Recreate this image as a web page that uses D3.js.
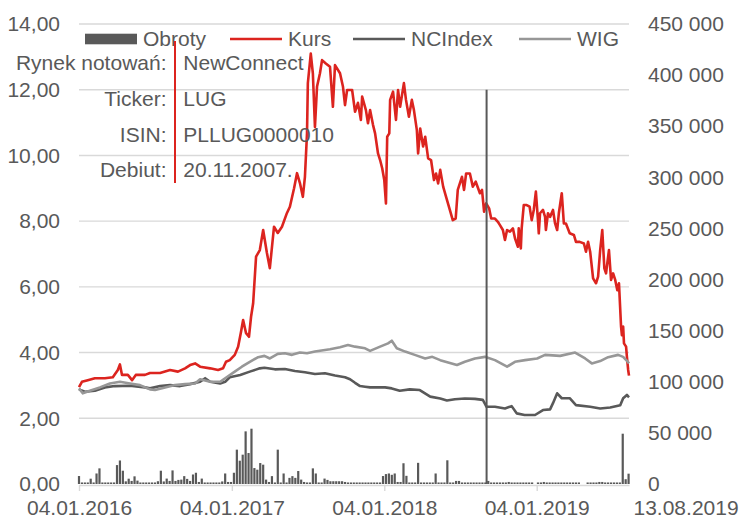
<!DOCTYPE html>
<html>
<head>
<meta charset="utf-8">
<script src="https://cdn.jsdelivr.net/npm/d3@7"></script>
<style>
  body { margin: 0; background: #fff; }
  svg text { font-family: "Liberation Sans", Arial, sans-serif; fill: #595959; }
</style>
</head>
<body>
<div id="chart"></div>
<script>
// Kurs LUG (PLN), left axis
const kurs = [
  ["2016-01-04", 2.95], ["2016-01-11", 3.11], ["2016-01-25", 3.16], ["2016-02-11", 3.22],
  ["2016-03-06", 3.22], ["2016-03-25", 3.25], ["2016-04-06", 3.47], ["2016-04-11", 3.64],
  ["2016-04-16", 3.32], ["2016-04-30", 3.32], ["2016-05-10", 3.16], ["2016-05-19", 3.32],
  ["2016-06-10", 3.32], ["2016-06-22", 3.38], ["2016-07-16", 3.38], ["2016-08-09", 3.47],
  ["2016-08-28", 3.42], ["2016-09-14", 3.52], ["2016-09-26", 3.62], ["2016-10-08", 3.67],
  ["2016-10-20", 3.57], ["2016-11-13", 3.52], ["2016-12-02", 3.47], ["2016-12-14", 3.52],
  ["2016-12-21", 3.72], ["2016-12-30", 3.77], ["2017-01-11", 3.93], ["2017-01-19", 4.18],
  ["2017-01-26", 4.63], ["2017-01-31", 4.99], ["2017-02-07", 4.59], ["2017-02-14", 4.48],
  ["2017-02-19", 5.09], ["2017-02-24", 5.5], ["2017-03-03", 6.92], ["2017-03-12", 7.12],
  ["2017-03-20", 7.73], ["2017-03-29", 7.03], ["2017-04-05", 6.57], ["2017-04-15", 7.83],
  ["2017-04-24", 7.64], ["2017-05-04", 7.83], ["2017-05-16", 8.25], ["2017-05-23", 8.44],
  ["2017-06-02", 9.0], ["2017-06-09", 9.46], ["2017-06-16", 9.16], ["2017-06-23", 8.74],
  ["2017-06-28", 9.35], ["2017-07-03", 10.68], ["2017-07-05", 12.2], ["2017-07-12", 13.1],
  ["2017-07-17", 12.5], ["2017-07-22", 10.87], ["2017-07-27", 12.1], ["2017-08-03", 12.5],
  ["2017-08-08", 12.9], ["2017-08-17", 12.8], ["2017-08-27", 12.7], ["2017-09-03", 11.48],
  ["2017-09-08", 12.75], ["2017-09-20", 12.5], ["2017-09-27", 12.1], ["2017-10-02", 11.53],
  ["2017-10-07", 11.99], ["2017-10-19", 11.99], ["2017-10-26", 11.33], ["2017-11-02", 11.6],
  ["2017-11-09", 11.08], ["2017-11-12", 11.79], ["2017-11-21", 11.38], ["2017-11-26", 10.98],
  ["2017-12-01", 11.38], ["2017-12-08", 10.93], ["2017-12-13", 10.67], ["2017-12-20", 10.06],
  ["2017-12-25", 9.86], ["2017-12-30", 9.61], ["2018-01-04", 9.25], ["2018-01-08", 8.54],
  ["2018-01-11", 10.57], ["2018-01-16", 10.67], ["2018-01-18", 11.69], ["2018-01-25", 11.94],
  ["2018-02-01", 11.08], ["2018-02-06", 11.99], ["2018-02-11", 11.48], ["2018-02-20", 12.2],
  ["2018-02-25", 11.69], ["2018-03-04", 11.18], ["2018-03-11", 11.69], ["2018-03-16", 11.38],
  ["2018-03-23", 10.77], ["2018-03-26", 10.06], ["2018-03-31", 10.82], ["2018-04-07", 10.27],
  ["2018-04-12", 10.57], ["2018-04-19", 9.91], ["2018-04-26", 9.86], ["2018-05-03", 9.25],
  ["2018-05-08", 9.45], ["2018-05-13", 9.15], ["2018-05-18", 9.56], ["2018-05-25", 9.05],
  ["2018-06-01", 8.74], ["2018-06-10", 8.34], ["2018-06-17", 8.03], ["2018-06-24", 8.08],
  ["2018-06-29", 8.95], ["2018-07-09", 9.35], ["2018-07-14", 8.95], ["2018-07-19", 9.45],
  ["2018-07-28", 9.45], ["2018-08-04", 9.05], ["2018-08-11", 9.2], ["2018-08-21", 8.85],
  ["2018-08-26", 8.95], ["2018-08-31", 8.29], ["2018-09-05", 8.54], ["2018-09-12", 8.39],
  ["2018-09-17", 8.08], ["2018-09-26", 8.08], ["2018-10-03", 7.98], ["2018-10-08", 7.88],
  ["2018-10-15", 7.73], ["2018-10-20", 7.43], ["2018-10-25", 7.73], ["2018-11-01", 7.68],
  ["2018-11-08", 7.78], ["2018-11-13", 7.48], ["2018-11-20", 7.22], ["2018-11-22", 7.78],
  ["2018-11-27", 7.17], ["2018-11-29", 7.78], ["2018-12-04", 8.49], ["2018-12-11", 8.49],
  ["2018-12-18", 8.44], ["2018-12-23", 8.03], ["2018-12-28", 8.34], ["2019-01-02", 8.9],
  ["2019-01-07", 8.03], ["2019-01-09", 7.63], ["2019-01-12", 8.24], ["2019-01-19", 8.34],
  ["2019-01-24", 8.13], ["2019-01-26", 7.73], ["2019-01-31", 8.24], ["2019-02-05", 8.13],
  ["2019-02-12", 8.34], ["2019-02-17", 7.93], ["2019-02-22", 7.73], ["2019-02-26", 8.24],
  ["2019-03-05", 8.85], ["2019-03-10", 7.93], ["2019-03-15", 7.93], ["2019-03-24", 7.63],
  ["2019-04-03", 7.58], ["2019-04-08", 7.37], ["2019-04-17", 7.37], ["2019-04-27", 7.32],
  ["2019-05-02", 7.07], ["2019-05-07", 7.37], ["2019-05-12", 7.07], ["2019-05-19", 6.26],
  ["2019-05-26", 6.11], ["2019-05-31", 6.31], ["2019-06-05", 7.12], ["2019-06-10", 7.73],
  ["2019-06-15", 6.56], ["2019-06-19", 6.41], ["2019-06-26", 7.12], ["2019-07-01", 6.21],
  ["2019-07-06", 6.41], ["2019-07-11", 6.21], ["2019-07-16", 5.9], ["2019-07-20", 6.11],
  ["2019-07-25", 4.79], ["2019-07-27", 4.53], ["2019-07-30", 4.79], ["2019-08-01", 4.28],
  ["2019-08-06", 4.18], ["2019-08-08", 3.87], ["2019-08-11", 3.47], ["2019-08-13", 3.3]
];

// NCIndex rescaled to the share price at start
const ncindex = [
  ["2016-01-04", 2.88], ["2016-01-18", 2.81], ["2016-02-11", 2.84], ["2016-03-06", 2.94],
  ["2016-03-30", 2.98], ["2016-05-05", 2.99], ["2016-06-10", 2.94], ["2016-06-22", 2.91],
  ["2016-07-16", 2.98], ["2016-08-09", 3.01], ["2016-09-02", 2.98], ["2016-09-26", 3.04],
  ["2016-10-20", 3.11], ["2016-11-01", 3.22], ["2016-11-13", 3.11], ["2016-12-07", 3.06],
  ["2016-12-19", 3.11], ["2016-12-30", 3.25], ["2017-01-24", 3.32], ["2017-02-16", 3.42],
  ["2017-03-12", 3.52], ["2017-03-23", 3.54], ["2017-04-17", 3.49], ["2017-05-11", 3.5],
  ["2017-06-04", 3.44], ["2017-06-28", 3.4], ["2017-07-22", 3.35], ["2017-08-15", 3.37],
  ["2017-09-08", 3.3], ["2017-10-02", 3.25], ["2017-10-14", 3.19], ["2017-10-26", 3.08],
  ["2017-11-07", 2.98], ["2017-11-19", 2.96], ["2017-12-01", 2.94], ["2018-01-06", 2.94],
  ["2018-01-22", 2.91], ["2018-02-10", 2.84], ["2018-03-06", 2.88], ["2018-03-30", 2.86],
  ["2018-04-24", 2.66], ["2018-05-18", 2.6], ["2018-06-03", 2.54], ["2018-06-22", 2.58],
  ["2018-07-16", 2.6], ["2018-08-09", 2.59], ["2018-08-28", 2.56], ["2018-09-06", 2.35],
  ["2018-09-26", 2.35], ["2018-10-20", 2.3], ["2018-11-05", 2.37], ["2018-11-17", 2.15],
  ["2018-12-06", 2.1], ["2018-12-31", 2.1], ["2019-01-19", 2.25], ["2019-02-05", 2.27],
  ["2019-02-12", 2.46], ["2019-02-22", 2.76], ["2019-03-05", 2.61], ["2019-03-24", 2.61],
  ["2019-04-08", 2.4], ["2019-05-12", 2.35], ["2019-06-05", 2.3], ["2019-06-29", 2.33],
  ["2019-07-23", 2.4], ["2019-07-30", 2.61], ["2019-08-08", 2.71], ["2019-08-13", 2.64]
];

// WIG rescaled to the share price at start
const wig = [
  ["2016-01-04", 2.91], ["2016-01-13", 2.76], ["2016-01-30", 2.84], ["2016-02-23", 2.94],
  ["2016-03-18", 3.06], ["2016-04-11", 3.11], ["2016-05-05", 3.06], ["2016-05-29", 3.01],
  ["2016-06-22", 2.88], ["2016-07-04", 2.86], ["2016-07-28", 2.94], ["2016-08-21", 3.01],
  ["2016-09-14", 3.04], ["2016-10-08", 3.06], ["2016-10-20", 3.19], ["2016-11-13", 3.11],
  ["2016-12-07", 3.11], ["2016-12-25", 3.27], ["2017-01-11", 3.42], ["2017-01-28", 3.57],
  ["2017-02-16", 3.72], ["2017-03-08", 3.86], ["2017-03-23", 3.9], ["2017-04-05", 3.82],
  ["2017-04-24", 3.96], ["2017-05-11", 3.98], ["2017-05-28", 3.93], ["2017-06-16", 4.0],
  ["2017-07-03", 3.98], ["2017-07-22", 4.03], ["2017-08-15", 4.08], ["2017-08-27", 4.1],
  ["2017-09-20", 4.16], ["2017-10-09", 4.23], ["2017-10-26", 4.18], ["2017-11-19", 4.13],
  ["2017-12-01", 4.05], ["2017-12-25", 4.18], ["2018-01-13", 4.28], ["2018-01-22", 4.36],
  ["2018-02-03", 4.13], ["2018-02-23", 4.03], ["2018-03-18", 3.93], ["2018-04-12", 3.82],
  ["2018-04-29", 3.87], ["2018-05-18", 3.77], ["2018-06-27", 3.62], ["2018-07-16", 3.72],
  ["2018-08-09", 3.82], ["2018-09-02", 3.87], ["2018-09-26", 3.77], ["2018-10-25", 3.57],
  ["2018-11-13", 3.72], ["2018-12-07", 3.77], ["2019-01-05", 3.82], ["2019-01-24", 3.93],
  ["2019-03-01", 3.9], ["2019-04-06", 4.0], ["2019-04-30", 3.82], ["2019-05-16", 3.67],
  ["2019-06-05", 3.74], ["2019-06-24", 3.86], ["2019-07-18", 3.93], ["2019-07-30", 3.87],
  ["2019-08-08", 3.75], ["2019-08-13", 3.67]
];

// Obroty (PLN), weekly, right axis; first week starts 04.01.2016
const obrotyStart = "2016-01-04";
const obroty = [
  7800, 1500, 1500, 1500, 5200, 1500, 10300, 15300, 1500, 1500,
  1500, 1500, 1500, 18500, 23000, 13000, 2600, 5200, 3000, 7500,
  3300, 1500, 1500, 1500, 1500, 1500, 1500, 2700, 13000, 2500,
  5300, 3000, 13300, 3000, 4000, 4300, 7700, 5000, 3000, 9300,
  11000, 2000, 5300, 1500, 1500, 1500, 1500, 1500, 1500, 2500,
  10300, 2000, 2000, 11000, 33600, 22800, 28700, 51500, 30300, 54100,
  15600, 14000, 20500, 18900, 4300, 2000, 7700, 1500, 33600, 1500,
  10300, 1500, 6000, 7700, 6000, 12700, 4300, 2000, 1500, 1500,
  15300, 10300, 1500, 1500, 5300, 4000, 2700, 2700, 2700, 2700,
  2700, 2000, 1500, 1500, 1500, 1500, 1500, 1500, 1500, 1500,
  1500, 1500, 1500, 1500, 7800, 9700, 10300, 9000, 10300, 2000,
  2000, 20300, 8000, 1500, 1500, 1500, 20700, 1500, 1500, 1500,
  1500, 1500, 10300, 1500, 1500, 1500, 23200, 1500, 1500, 3000,
  3000, 1500, 1500, 1500, 1500, 1500, 1500, 1500, 1500, 1500,
  3000, 1500, 1500, 1500, 1500, 1500, 1500, 2000, 1500, 1500,
  1500, 1500, 1500, 1500, 1500, 1500, 0, 1500, 1500, 2000,
  1500, 1500, 1500, 1500, 1500, 1500, 1500, 1500, 1500, 1500,
  1500, 1500, 0, 0, 1500, 1500, 1500, 1500, 2000, 2000,
  1500, 1500, 1500, 1500, 1500, 1500, 49200, 4700, 10100
];

const leftTicks = [0, 2, 4, 6, 8, 10, 12, 14];
const rightTicks = [0, 50000, 100000, 150000, 200000, 250000, 300000, 350000, 400000, 450000];
const dateTicks = ["2016-01-04", "2017-01-04", "2018-01-04", "2019-01-04"];
const endDate = "2019-08-13";
const markerDate = "2018-09-06";
const markerValue = 12;

const legendNames = ["Obroty", "Kurs", "NCIndex", "WIG"];
const infoLabels = ["Rynek notowań:", "Ticker:", "ISIN:", "Debiut:"];
const infoValues = ["NewConnect", "LUG", "PLLUG0000010", "20.11.2007."];

// colours
const red = "#dc241f";
const dark = "#595959";
const light = "#979797";
const grid = "#d9d9d9";

const W = 739, H = 515;
const dim = { top: 24, right: 110, bottom: 31, left: 79 };

const parse = d3.timeParse("%Y-%m-%d");
const pl = d3.formatLocale({ decimal: ",", thousands: " ", grouping: [3], currency: ["", " zł"] });

const svg = d3.select("#chart")
  .append("svg")
  .attr("width", W)
  .attr("height", H);

const x = d3.scaleTime()
  .domain([parse(dateTicks[0]), parse(endDate)])
  .range([dim.left, W - dim.right]);

const y = d3.scaleLinear()
  .domain([0, 14])
  .range([H - dim.bottom, dim.top]);

const y2 = d3.scaleLinear()
  .domain([0, 450000])
  .range([H - dim.bottom, dim.top]);

// grid lines
svg.append("g")
  .selectAll("line")
  .data(leftTicks.filter(d => d > 0))
  .join("line")
  .attr("x1", x.range()[0])
  .attr("x2", x.range()[1])
  .attr("y1", d => y(d))
  .attr("y2", d => y(d))
  .attr("stroke", grid)
  .attr("stroke-width", 1.4);

// left axis
const yAxis = svg.append("g")
  .attr("transform", "translate(" + dim.left + ",0)")
  .call(d3.axisLeft(y).tickValues(leftTicks).tickSize(0).tickPadding(19).tickFormat(pl.format(".2f")));
yAxis.select(".domain").remove();
yAxis.selectAll("text").style("font-size", "21px").attr("fill", dark);

// right axis
const y2Axis = svg.append("g")
  .attr("transform", "translate(" + (W - dim.right) + ",0)")
  .call(d3.axisRight(y2).tickValues(rightTicks).tickSize(0).tickPadding(19).tickFormat(pl.format(",.0f")));
y2Axis.select(".domain").remove();
y2Axis.selectAll("text").style("font-size", "21px").attr("fill", dark);

// x axis
const xAxis = svg.append("g")
  .attr("transform", "translate(0," + (y(0) + 1) + ")")
  .call(d3.axisBottom(x)
    .tickValues(dateTicks.map(parse))
    .tickSize(6)
    .tickSizeOuter(0)
    .tickPadding(9)
    .tickFormat(d3.timeFormat("%d.%m.%Y")));
xAxis.select(".domain").attr("stroke", grid).attr("stroke-width", 1.4);
xAxis.selectAll(".tick line").attr("stroke", grid).attr("stroke-width", 1.4);
xAxis.selectAll("text").style("font-size", "21px").attr("fill", dark);

svg.append("text")
  .attr("x", x(parse(endDate)) + 4.5)
  .attr("y", y(0) + 31)
  .style("font-size", "21px")
  .text(d3.timeFormat("%d.%m.%Y")(parse(endDate)));

// volume bars
const t0 = parse(obrotyStart);
svg.append("g")
  .selectAll("rect")
  .data(obroty)
  .join("rect")
  .attr("x", (d, i) => x(d3.timeDay.offset(t0, 7 * i)) - 1.1)
  .attr("width", 2.2)
  .attr("y", d => y2(d))
  .attr("height", d => y2(0) - y2(d))
  .attr("fill", dark);

// lines
const line = d3.line()
  .x(d => x(parse(d[0])))
  .y(d => y(d[1]));

const series = [
  { data: kurs, color: red },
  { data: ncindex, color: dark },
  { data: wig, color: light }
];

svg.append("g")
  .selectAll("path")
  .data(series)
  .join("path")
  .attr("d", d => line(d.data))
  .attr("fill", "none")
  .attr("stroke", d => d.color)
  .attr("stroke-width", 2.6)
  .attr("stroke-linejoin", "round");

// marker line
svg.append("line")
  .attr("x1", x(parse(markerDate)))
  .attr("x2", x(parse(markerDate)))
  .attr("y1", y(markerValue))
  .attr("y2", y(0))
  .attr("stroke", dark)
  .attr("stroke-width", 2);

// legend
const legendX = [85, 230, 353, 519];
const legendY = 39;
const lg = svg.append("g");
legendNames.forEach((name, i) => {
  if (i === 0) {
    lg.append("rect")
      .attr("x", legendX[i]).attr("y", legendY - 5.3)
      .attr("width", 52).attr("height", 10.6)
      .attr("fill", dark);
  } else {
    lg.append("line")
      .attr("x1", legendX[i]).attr("x2", legendX[i] + 52)
      .attr("y1", legendY).attr("y2", legendY)
      .attr("stroke", series[i - 1].color)
      .attr("stroke-width", 2.6);
  }
  lg.append("text")
    .attr("x", legendX[i] + 58)
    .attr("y", legendY + 7)
    .style("font-size", "21px")
    .text(name);
});

// info box
const info = svg.append("g");
infoLabels.forEach((lab, i) => {
  const ty = 70 + i * 35.8;
  info.append("text")
    .attr("x", 166.5).attr("y", ty)
    .attr("text-anchor", "end")
    .style("font-size", "21px")
    .text(lab);
  info.append("text")
    .attr("x", 183.3).attr("y", ty)
    .style("font-size", "21px")
    .text(infoValues[i]);
});
info.append("line")
  .attr("x1", 175).attr("x2", 175)
  .attr("y1", 41).attr("y2", 183)
  .attr("stroke", red)
  .attr("stroke-width", 2);
</script>
</body>
</html>
